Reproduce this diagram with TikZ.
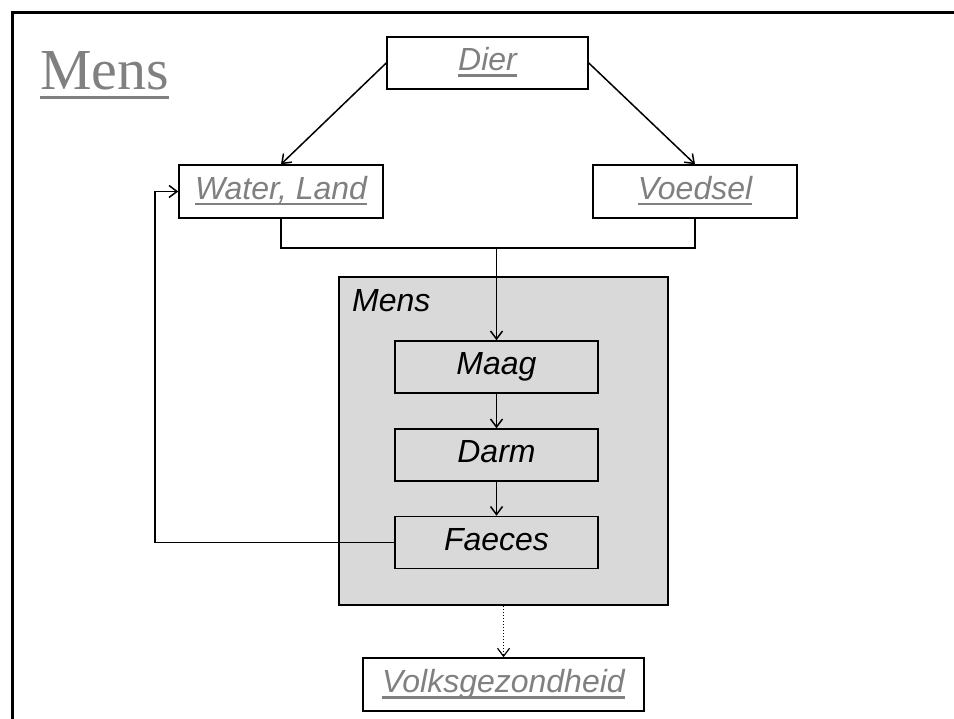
\documentclass[tikz,border=0pt]{standalone}
\usepackage{fontspec}
\setmainfont{Liberation Serif}
\setsansfont{Liberation Sans}
\usetikzlibrary{arrows.meta}
\definecolor{linkgray}{RGB}{128,128,128}
\definecolor{panelgray}{RGB}{217,217,217}
% underlined text: #1 rule offset, #2 rule thickness, #3 text
\newsavebox\ulbox
\newcommand\ulined[3]{\sbox\ulbox{#3}\rlap{\rule[#1]{\wd\ulbox}{#2}}\usebox\ulbox}
\begin{document}
\begin{tikzpicture}[x=1pt,y=-1pt,
  boxfont/.style={font=\sffamily\itshape\fontsize{32}{38}\selectfont},
  box/.style={draw, line width=1.5pt, minimum width=203pt, minimum height=52pt,
    inner sep=0pt, text height=20pt, text depth=4pt, boxfont},
  link/.style={text=linkgray},
  flow/.style={line width=1.5pt, -{Straight Barb[length=8pt,width=12pt]}},
  plain/.style={line width=1.5pt}]
\useasboundingbox (0,0) rectangle (954,719);

% page frame
\draw[line width=3pt] (12,719) -- (12,13) -- (954,13);

% title
\node[anchor=base west, inner sep=0pt, text=linkgray,
  font=\fontsize{58}{62}\selectfont] (title) at (40,90) {\ulined{-9pt}{3pt}{Mens}};

% human panel
\node[draw, fill=panelgray, line width=1.5pt, minimum width=329pt,
  minimum height=328pt, inner sep=0pt] (mens) at (503.5,441) {};
\node[anchor=base west, inner sep=0pt, boxfont] (menslabel) at (352,312) {Mens};

% boxes
\node[box, link, minimum width=201pt] (dier) at (487.5,63) {\ulined{-6pt}{2.7pt}{Dier}};
\node[box, link, minimum width=204pt, minimum height=53pt] (water) at (281,191.5) {\ulined{-6pt}{2.7pt}{Water, Land}};
\node[box, link, minimum width=204pt, minimum height=53pt] (voedsel) at (695,191.5) {\ulined{-6pt}{2.7pt}{Voedsel}};
\node[box] (maag) at (496.5,367) {Maag};
\node[box] (darm) at (496.5,455) {Darm};
\node[box] (faeces) at (496.5,542.5) {Faeces};
\node[box, link, minimum width=281pt, minimum height=53pt] (volks) at (503.5,684.5) {\ulined{-6pt}{2.7pt}{Volksgezondheid}};

% connectors
\draw[flow] (dier.west) -- (water.north);
\draw[flow] (dier.east) -- (voedsel.north);
\coordinate (join) at (496.5,248);
\draw[plain] (water.south) |- (join) -| (voedsel.south);
\draw[flow] (join) -- (maag.north);
\draw[flow] (maag) -- (darm);
\draw[flow] (darm) -- (faeces);
\coordinate (loop) at (155,191.5);
\draw[flow] (faeces.west) -| (loop) -- (water.west);
\draw[flow, line width=1.2pt, dash pattern=on 1.5pt off 1.5pt] (mens.south) -- (volks.north);
\end{tikzpicture}
\end{document}
